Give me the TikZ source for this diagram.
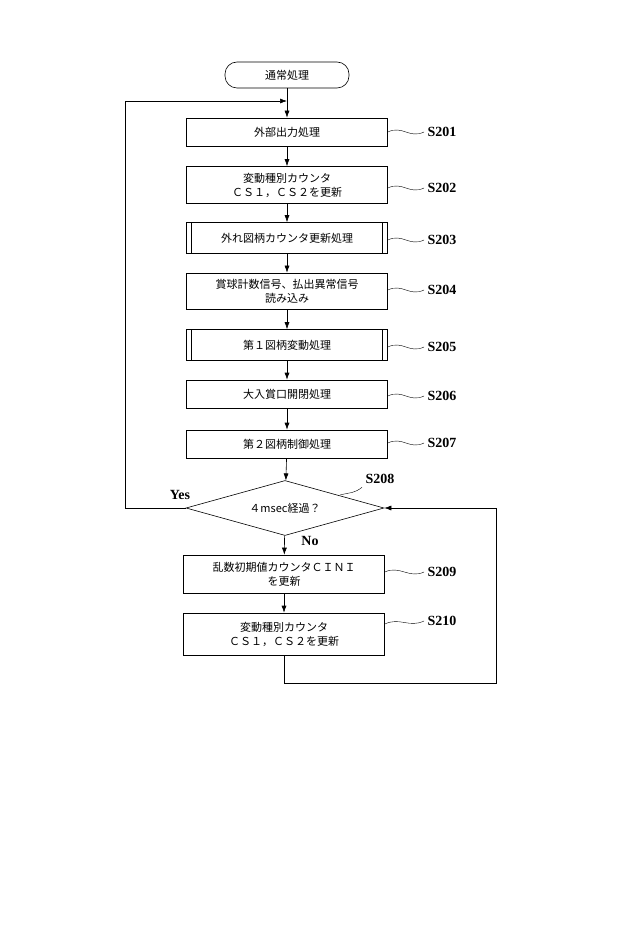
\documentclass[tikz,border=0pt]{standalone}
\usepackage{fontspec}
\setmainfont{Liberation Serif}
\newfontfamily\cjk{Noto Sans CJK JP}
\usetikzlibrary{shapes.geometric,arrows.meta}
\begin{document}
\begin{tikzpicture}[x=1pt,y=-1pt,semithick,
  box/.style={draw,minimum width=201pt,inner sep=1pt,align=center,font=\cjk\fontsize{11}{14}\selectfont},
  sub/.style={box,path picture={\draw ([xshift=5pt]path picture bounding box.north west)--([xshift=5pt]path picture bounding box.south west);\draw ([xshift=-5pt]path picture bounding box.north east)--([xshift=-5pt]path picture bounding box.south east);}},
  lbl/.style={font=\bfseries\fontsize{14}{16}\selectfont,anchor=west},
  arr/.style={-{Latex[length=7pt,width=5pt]}},
  wv/.style={thin}]
\useasboundingbox (0,0) rectangle (640,949);
\node[draw,rounded corners=12pt,minimum width=124pt,minimum height=26pt,font=\cjk\fontsize{11}{13}\selectfont] (st) at (287,75) {通常処理};
\node[box,minimum height=28pt] (b1) at (287,132) {外部出力処理};
\node[box,minimum height=37pt] (b2) at (287,185) {変動種別カウンタ\\ＣＳ１，ＣＳ２を更新};
\node[sub,minimum height=31pt] (b3) at (287,238) {外れ図柄カウンタ更新処理};
\node[box,minimum height=36pt] (b4) at (287,291) {賞球計数信号、払出異常信号\\読み込み};
\node[sub,minimum height=31pt] (b5) at (287,345) {第１図柄変動処理};
\node[box,minimum height=28pt] (b6) at (287,394) {大入賞口開閉処理};
\node[box,minimum height=28pt] (b7) at (287,444) {第２図柄制御処理};
\node[draw,diamond,aspect=3.6,minimum width=198pt,minimum height=55pt,inner sep=0pt,font=\cjk\fontsize{11}{13}\selectfont] (d) at (285,508) {４msec経過？};
\node[box,minimum height=38pt] (b9) at (284,574) {乱数初期値カウンタＣＩＮＩ\\を更新};
\node[box,minimum height=42pt] (b10) at (284,634) {変動種別カウンタ\\ＣＳ１，ＣＳ２を更新};
\coordinate (top) at (287,101);
\coordinate (lb) at (125,508);
\coordinate (r1) at (284,683.5);
\coordinate (r2) at (496.5,683.5);
\coordinate (r3) at (496.5,508);
\draw[arr] (st) -- (b1);
\draw[arr] (lb) |- (top);
\draw (d.west) -- (lb);
\draw[arr] (b1) -- (b2);
\draw[arr] (b2) -- (b3);
\draw[arr] (b3) -- (b4);
\draw[arr] (b4) -- (b5);
\draw[arr] (b5) -- (b6);
\draw[arr] (b6) -- (b7);
\draw[arr] (b7) -- (d);
\draw[arr] (d) -- (b9);
\draw[arr] (b9) -- (b10);
\draw (b10.south) -- (r1) -- (r2) -- (r3);
\draw[arr] (r3) -- (d.east);
\node[font=\bfseries\fontsize{14}{16}\selectfont] (yes) at (180,495) {Yes};
\node[font=\bfseries\fontsize{14}{16}\selectfont] (no) at (310,541) {No};
\foreach \n/\y/\t in {b1/132/S201,b2/188/S202,b3/240/S203,b4/290/S204,b5/347/S205,b6/396/S206,b7/443/S207,b9/572/S209}{
  \node[lbl] (l\n) at (424,\y) {\t};
  \draw[wv] (\n.east|-0,\y) .. controls +(15,-7) and +(-15,7) .. (l\n.west);
}
\node[lbl] (lb10) at (424,621) {S210};
\draw[wv] (b10.east|-0,624) .. controls +(15,-7) and +(-15,7) .. (lb10.west);
\node[font=\bfseries\fontsize{14}{16}\selectfont] (l8) at (380,479) {S208};
\draw[wv] (340,495) .. controls +(12,-3) and +(-8,6) .. (l8.south west);
\end{tikzpicture}
\end{document}
